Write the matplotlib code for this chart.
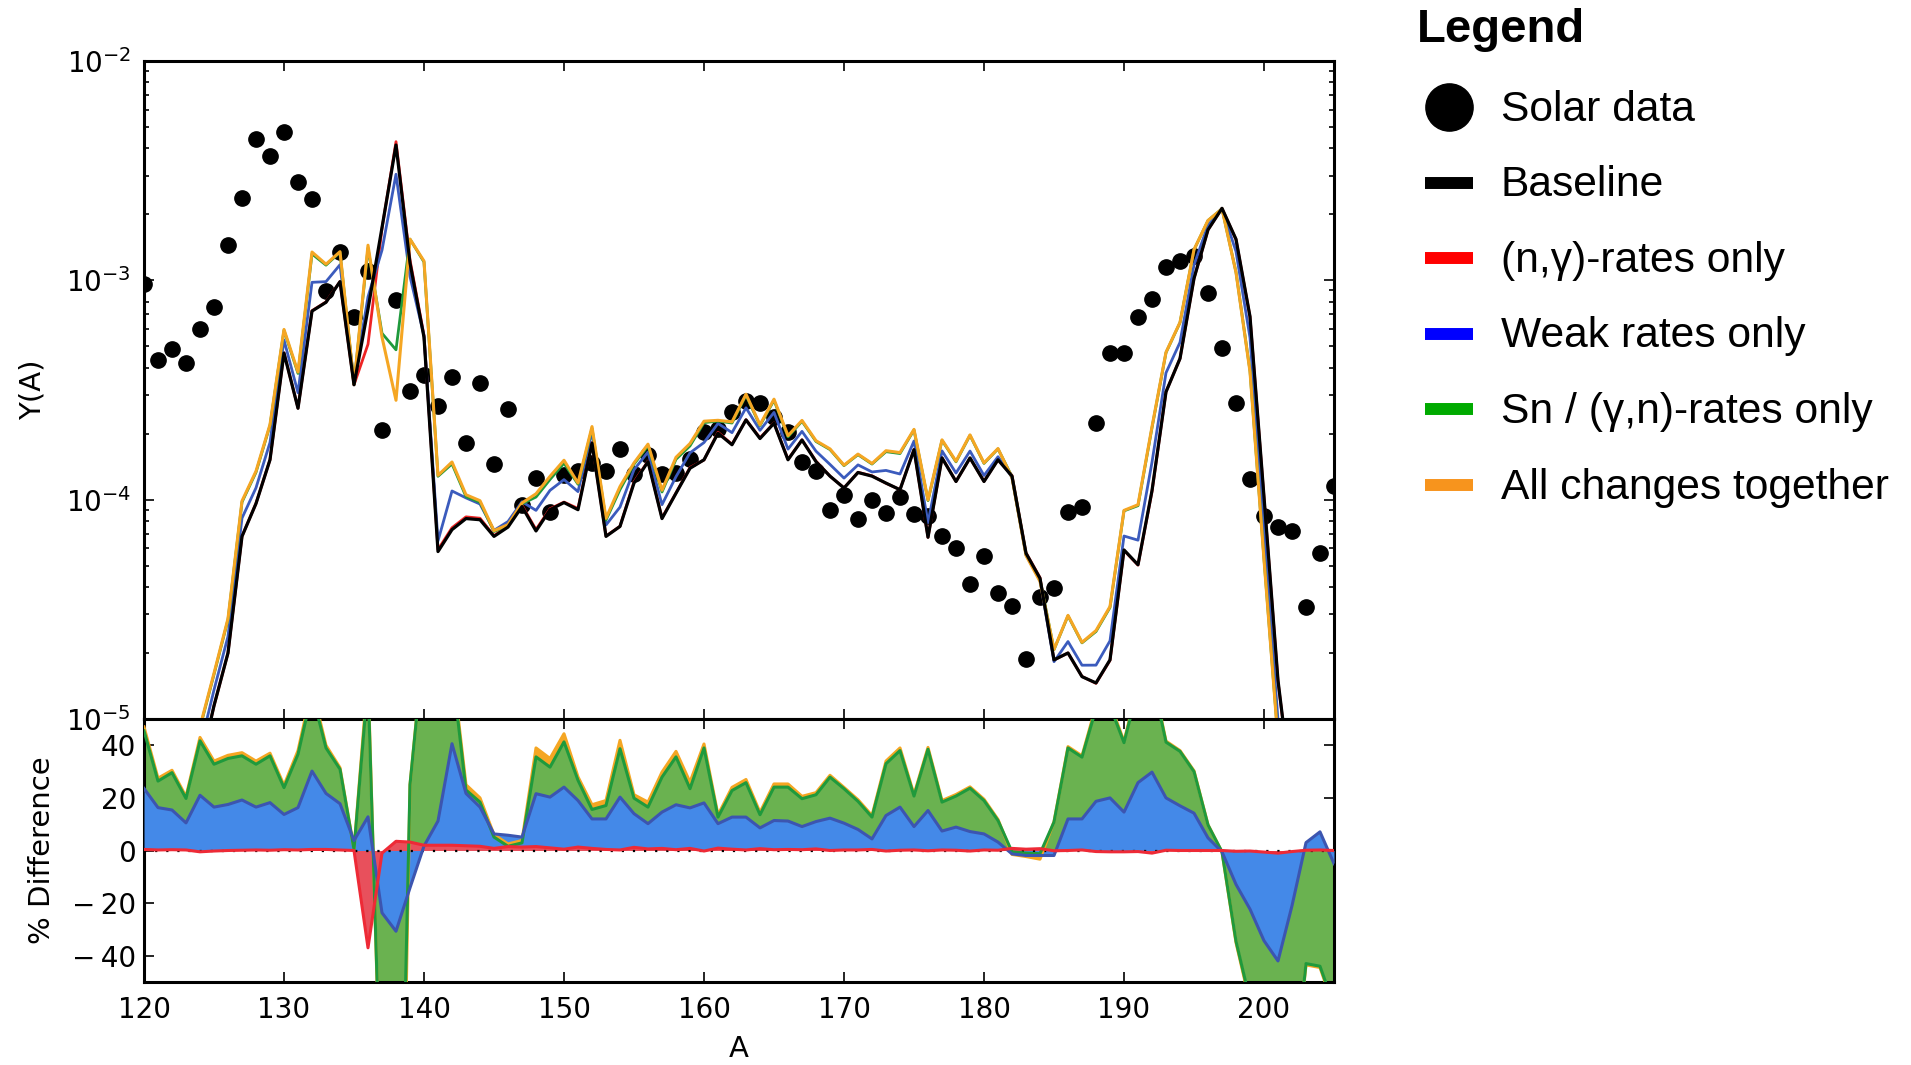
import numpy as np
import matplotlib
matplotlib.use("Agg")
import matplotlib.pyplot as plt
from matplotlib.ticker import LogLocator, NullFormatter, FixedLocator, FuncFormatter

# ---------------- data ----------------
A = list(range(120, 206))

solar = [9.6e-4, 4.35e-4, 4.85e-4, 4.2e-4, 6.0e-4, 7.55e-4, 1.45e-3, 2.38e-3, 4.4e-3, 3.7e-3,
         4.77e-3, 2.8e-3, 2.34e-3, 8.9e-4, 1.35e-3, 6.8e-4, 1.1e-3, 2.08e-4, 8.15e-4, 3.13e-4,
         3.7e-4, 2.68e-4, 3.62e-4, 1.81e-4, 3.4e-4, 1.46e-4, 2.59e-4, 9.5e-5, 1.26e-4, 8.8e-5,
         1.3e-4, 1.35e-4, 1.47e-4, 1.35e-4, 1.71e-4, 1.31e-4, 1.59e-4, 1.31e-4, 1.32e-4, 1.54e-4,
         2.04e-4, 2.11e-4, 2.51e-4, 2.82e-4, 2.76e-4, 2.38e-4, 2.04e-4, 1.49e-4, 1.35e-4, 8.95e-5,
         1.05e-4, 8.2e-5, 1.0e-4, 8.7e-5, 1.03e-4, 8.6e-5, 8.4e-5, 6.8e-5, 6.05e-5, 4.12e-5,
         5.55e-5, 3.75e-5, 3.26e-5, 1.88e-5, 3.61e-5, 3.94e-5, 8.8e-5, 9.3e-5, 2.23e-4, 4.68e-4,
         4.68e-4, 6.77e-4, 8.2e-4, 1.15e-3, 1.22e-3, 1.29e-3, 8.8e-4, 4.93e-4, 2.77e-4, 1.24e-4,
         8.4e-5, 7.5e-5, 7.2e-5, 3.24e-5, 5.74e-5, 1.16e-4]

baseline = [2e-8, 6e-8, 2e-7, 8e-7, 6e-6, 1.15e-5, 2.0e-5, 6.8e-5, 9.6e-5, 1.52e-4,
            4.66e-4, 2.61e-4, 7.24e-4, 7.94e-4, 9.86e-4, 3.34e-4, 7.4e-4, 1.74e-3, 4.14e-3, 1.2e-3,
            5.5e-4, 5.8e-5, 7.3e-5, 8.2e-5, 8.1e-5, 6.8e-5, 7.5e-5, 9.3e-5, 7.2e-5, 9.0e-5,
            9.7e-5, 9.0e-5, 1.81e-4, 6.8e-5, 7.55e-5, 1.19e-4, 1.49e-4, 8.2e-5, 1.07e-4, 1.39e-4,
            1.52e-4, 2.01e-4, 1.78e-4, 2.31e-4, 1.9e-4, 2.23e-4, 1.52e-4, 1.87e-4, 1.49e-4, 1.28e-4,
            1.13e-4, 1.33e-4, 1.28e-4, 1.19e-4, 1.11e-4, 1.69e-4, 6.74e-5, 1.55e-4, 1.21e-4, 1.55e-4,
            1.21e-4, 1.52e-4, 1.28e-4, 5.7e-5, 4.38e-5, 1.86e-5, 2.0e-5, 1.56e-5, 1.46e-5, 1.86e-5,
            5.9e-5, 5.05e-5, 1.1e-4, 3.1e-4, 4.4e-4, 1.02e-3, 1.7e-3, 2.13e-3, 1.54e-3, 6.84e-4,
            1.03e-4, 1.5e-5, 4.5e-6, 1e-6, 3e-7, 1e-7]

# % difference relative to the baseline (bottom panel)
pct_ng = [0.4, 0.2, 0.3, 0.2, -0.5, -0.2, 0.0, 0.1, 0.2, 0.1,
          0.3, 0.2, 0.4, 0.4, 0.2, 0.0, -37, -1.0, 3.5, 3.2,
          2.0, 2.0, 2.0, 1.8, 1.6, 0.8, 1.5, 1.3, 1.5, 1.0,
          0.5, 1.3, 0.8, 0.4, 0.2, 1.2, 0.6, 0.8, 0.3, 0.8,
          -0.2, 0.9, 0.5, 0.2, 0.7, 0.3, 0.4, 0.3, 0.6, 0.0,
          0.2, 0.2, 0.4, -0.2, 0.1, 0.2, -0.1, 0.2, 0.1, -0.2,
          0.2, 0.1, 0.8, 0.5, 0.7, -0.1, 0.0, 0.2, -0.4, -0.5,
          -0.5, -0.4, -1.0, 0.1, 0.0, 0.0, 0.0, 0.0, -0.3, -0.2,
          -0.6, -1.0, -0.4, 0.1, 0.2, 0.0]

pct_weak = [23.6, 16.3, 15.4, 10.5, 21, 16.5, 17.5, 19.2, 16.5, 18.2,
            13.7, 16.3, 30.2, 21.7, 17.8, 3.8, 12.8, -23.7, -30.7, -14.2,
            1.7, 11.2, 40.6, 21.7, 16.5, 6.3, 5.8, 5.1, 21.6, 20.3,
            24.1, 19, 12, 12, 20.3, 14, 10.2, 14.6, 17.4, 16.2,
            18.1, 10.2, 12.7, 12.7, 8.6, 11.4, 11.2, 9.1, 11, 12.3,
            10.4, 8, 4.4, 13.3, 16.5, 9.1, 15.2, 7.4, 8.9, 7.2,
            6.3, 3.2, -1.3, -1.9, -1.9, -1.9, 12, 12, 18.7, 20,
            14.6, 25.8, 29.8, 20, 17, 14.2, 4.8, -0.5, -12.9, -22.3,
            -34.3, -42, -21, 3, 7.1, -5]

pct_sn = [45.5, 26.4, 29.6, 19.8, 41.7, 32.8, 35, 36, 32.8, 36,
          23.9, 36.6, 60, 39, 30.9, 0.4, 64, -111, -215, 25,
          79, 79, 69, 23, 18.4, 5.1, 1.6, 2.9, 35.6, 31.7,
          41.3, 26.7, 15.6, 17.1, 38.7, 19.9, 16.5, 27.9, 35.6, 23.5,
          39, 12.7, 22.8, 25.8, 13.6, 24.1, 24.1, 19.7, 21.2, 27.9,
          23.5, 18.7, 12.7, 33, 38, 20.7, 38.5, 18.4, 20.7, 23.7,
          19, 11.4, -0.5, -1, -1.2, 10.8, 39, 35.5, 54, 55,
          41, 62, 66, 41.2, 37.7, 30, 9.7, -0.5, -34.5, -57,
          -65, -62, -93, -43, -44, -59]

pct_all = [47, 27.5, 30.5, 20.5, 43, 34, 36.2, 37.2, 34, 37,
           24.8, 38, 62, 40, 31.5, 0.5, 67, -115, -268, 25,
           80, 80, 71, 25, 20, 6, 2.5, 3.8, 39, 35,
           44.4, 28, 17.4, 19, 41.9, 21.2, 18.4, 29.8, 37.7, 26,
           40.5, 13.5, 24, 27, 14.5, 25.3, 25.3, 20.6, 22, 28.6,
           24, 19.3, 13.3, 34, 39, 21.3, 39.2, 19, 21.3, 24.2,
           19.5, 11.8, -1.5, -2.3, -3.3, 11, 39.5, 36, 55, 56,
           41.5, 63, 67, 41.6, 38, 30.3, 9.8, -0.6, -35, -58,
           -66, -63, -94, -43.5, -44.5, -60]

xticks = [120, 130, 140, 150, 160, 170, 180, 190, 200]
diff_ticks = [-40, -20, 0, 20, 40]
legend_labels = ["Solar data", "Baseline", "(n,\u03b3)-rates only", "Weak rates only",
                 "Sn / (\u03b3,n)-rates only", "All changes together"]

# ---------------- figure ----------------
plt.rcParams["font.family"] = ["DejaVu Sans"]
W, H = 1911, 1065
fig = plt.figure(figsize=(W / 100, H / 100), dpi=100)
L, R = 144, 1334
T, M, B = 61, 719, 982
ax1 = fig.add_axes([L / W, 1 - M / H, (R - L) / W, (M - T) / H])
ax2 = fig.add_axes([L / W, 1 - B / H, (R - L) / W, (B - M) / H], sharex=ax1)

a = np.array(A, dtype=float)
base = np.array(baseline)
c_ng = base * np.exp(np.array(pct_ng) / 100.0)
c_weak = base * np.exp(np.array(pct_weak) / 100.0)
c_sn = base * np.exp(np.array(pct_sn) / 100.0)
c_all = base * np.exp(np.array(pct_all) / 100.0)

RED, BLUE, GREEN, ORANGE = "#ee2424", "#3b5bbd", "#1f9a3c", "#f5a623"

ax1.plot(a, solar, "o", color="black", ms=11, mec="black", zorder=2)
ax1.plot(a, c_ng, color=RED, lw=2.0, zorder=3)
ax1.plot(a, c_weak, color=BLUE, lw=2.0, zorder=4)
ax1.plot(a, c_sn, color=GREEN, lw=2.0, zorder=5)
ax1.plot(a, c_all, color=ORANGE, lw=2.2, zorder=6)
ax1.plot(a, base, color="black", lw=2.3, zorder=7)
ax1.set_yscale("log")
ax1.set_ylim(1e-5, 1e-2)
ax1.set_xlim(120, 205)
ax1.yaxis.set_major_locator(LogLocator(base=10, numticks=10))
ax1.yaxis.set_minor_locator(LogLocator(base=10, subs=np.arange(2, 10), numticks=20))
ax1.yaxis.set_minor_formatter(NullFormatter())
ax1.set_ylabel("Y(A)", fontsize=21)
ax1.yaxis.set_label_coords(-0.082, 0.5)

# bottom panel
ax2.fill_between(a, 0, pct_all, color=ORANGE, lw=0, zorder=1)
ax2.fill_between(a, 0, pct_sn, color="#6ab250", lw=0, zorder=2)
ax2.fill_between(a, 0, pct_weak, color="#4489e8", lw=0, zorder=3)
ax2.fill_between(a, 0, pct_ng, color="#e8505c", lw=0, zorder=4)
ax2.axhline(0, color="black", lw=1.6, ls=(0, (1, 4)), zorder=4.5)
ax2.plot(a, pct_all, color=ORANGE, lw=2.2, zorder=5)
ax2.plot(a, pct_sn, color=GREEN, lw=2.2, zorder=6)
ax2.plot(a, pct_weak, color="#3c55b0", lw=2.2, zorder=7)
ax2.plot(a, pct_ng, color="#ee2a36", lw=2.2, zorder=8)
ax2.set_ylim(-50, 50)
ax2.yaxis.set_major_locator(FixedLocator(diff_ticks))
ax2.yaxis.set_major_formatter(FuncFormatter(
    lambda v, p: ("\u2212\u2009%d" % abs(v)) if v < 0 else "%d" % v))
ax2.xaxis.set_major_locator(FixedLocator(xticks))
ax2.set_ylabel("% Difference", fontsize=21)
ax2.yaxis.set_label_coords(-0.074, 0.5)
ax2.set_xlabel("A", fontsize=21)
ax2.xaxis.set_label_coords(0.5, -0.2)

for ax in (ax1, ax2):
    ax.tick_params(which="both", direction="in", top=True, right=True, labelsize=20, width=1.2)
    ax.tick_params(which="major", length=7.5)
    ax.tick_params(which="minor", length=3.8)
    ax.tick_params(axis="x", which="major", pad=10)
    for s in ax.spines.values():
        s.set_linewidth(2.2)
ax1.tick_params(labelbottom=False)
ax1.tick_params(axis="y", which="major", pad=9.5)
ax2.tick_params(axis="y", which="major", pad=5.5)

# ---------------- legend (drawn in pixel layout coordinates) ----------------
lax = fig.add_axes([0, 0, 1, 1])
lax.set_xlim(0, W)
lax.set_ylim(H, 0)
lax.axis("off")
lfont = ["Liberation Sans", "DejaVu Sans"]
lax.text(1417, 30.5, "Legend", fontsize=34, fontweight="bold", family=lfont, ha="left", va="center")
ys = [107, 182.5, 258, 333.5, 409, 484.5]
hcols = ["black", "black", "#ff0000", "#0000ff", "#00aa00", "#f7941d"]
for i, (lab, yy, col) in enumerate(zip(legend_labels, ys, hcols)):
    if i == 0:
        lax.plot([1449], [yy], "o", color=col, ms=34)
    else:
        lax.plot([1425, 1473], [yy, yy], color=col, lw=8.6, solid_capstyle="butt")
    lax.text(1501, yy + 3, lab, fontsize=30.7, family=lfont, ha="left", va="center")

fig.savefig("out.png", dpi=100)
